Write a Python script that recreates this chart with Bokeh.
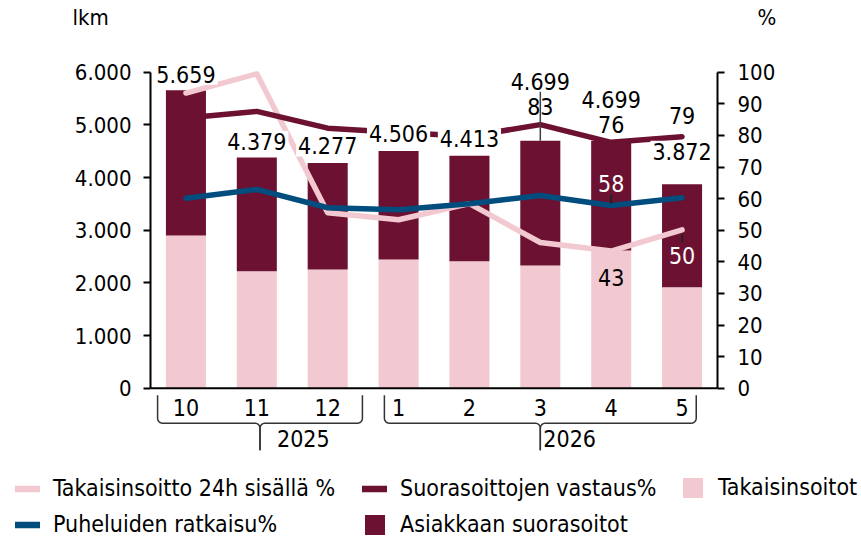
import numpy as np
from bokeh.plotting import figure
from bokeh.models import (ColumnDataSource, Range1d, LinearAxis, FixedTicker, Span,
                          Legend, LegendItem)
from bokeh.embed import file_html
from bokeh.resources import INLINE
from bokeh.core.properties import value

# ---------------- data ----------------
months = ["10", "11", "12", "1", "2", "3", "4", "5"]
years = ["2025", "2026"]
takaisinsoitot = [2900, 2222, 2254, 2444, 2412, 2330, 2615, 1915]
suorasoitot = [2759, 2157, 2023, 2062, 2001, 2369, 2084, 1957]
total_labels = [5659, 4379, 4277, 4506, 4413, 4699, 4699, 3872]
takaisin24_pct = [93.4, 99.5, 55.5, 53.3, 58.4, 46.1, 43.4, 50.1]
vastaus_pct = [85.5, 87.6, 82.3, 80.9, 79.7, 83.4, 77.8, 79.6]
ratkaisu_pct = [60.1, 62.9, 57.1, 56.5, 58.4, 61.0, 57.8, 60.3]
vastaus_labels = ["", "", "", "", "", "83", "76", "79"]
ratkaisu_labels = ["", "", "", "", "", "", "58", ""]
takaisin24_labels = ["", "", "", "", "", "", "43", "50"]
left_ticks = [0, 1000, 2000, 3000, 4000, 5000, 6000]
right_ticks = [0, 10, 20, 30, 40, 50, 60, 70, 80, 90, 100]
axis_units = ["lkm", "%"]
series_names = ["Takaisinsoitto 24h sisällä %", "Puheluiden ratkaisu%",
                "Suorasoittojen vastaus%", "Asiakkaan suorasoitot", "Takaisinsoitot"]

# ---------------- style / layout ----------------
FONT = "DejaVu Sans Condensed"
DARK = "#6c1131"
PINK = "#f3c9d1"
BLUE = "#004d7e"
INK = "#000000"
W = 861
HEAD_H, H, LEG_H = 40, 420, 77         # three stacked strips (total 537)
FL, FR, FT, FB = 150, 717, 0, 420      # frame of the chart strip
Y0, Y6 = 347.7, 31.7                   # baseline / top value px (chart strip)
K = 6000 / (Y0 - Y6)                   # left units per px
K2 = 100 / (Y0 - Y6)                   # right units per px
XU = 8 / (FR - FL)                     # x units per px


def bare(fig):
    fig.outline_line_color = None
    fig.background_fill_color = "white"
    fig.border_fill_color = "white"
    for g in fig.grid:
        g.visible = False
    return fig


# ---------------- header strip (unit titles) ----------------
h = bare(figure(width=W, height=HEAD_H, output_backend="svg", toolbar_location=None,
                title=None, x_range=Range1d(0, W), y_range=Range1d(0, HEAD_H),
                x_axis_location=None, y_axis_location=None,
                min_border_left=0, min_border_right=0, min_border_top=0, min_border_bottom=0))
h.text(x=[72, 757], y=[HEAD_H - 17] * 2, text=axis_units, text_font=value(FONT),
       text_font_size=value("22px"), text_color=INK, text_align="left",
       text_baseline="middle")

# ---------------- chart ----------------
p = bare(figure(width=W, height=H, output_backend="svg", toolbar_location=None, title=None,
                x_range=Range1d(0, 8), y_range=Range1d(-(FB - Y0) * K, 6000 + (Y6 - FT) * K),
                x_axis_location=None, y_axis_location=None,
                min_border_left=FL, min_border_right=W - FR,
                min_border_top=FT, min_border_bottom=H - FB))
p.extra_y_ranges = {"pct": Range1d(-(FB - Y0) * K2, 100 + (Y6 - FT) * K2)}


def style_axis(ax, standoff):
    ax.axis_line_width = 2
    ax.axis_line_color = INK
    ax.major_tick_line_width = 2
    ax.major_tick_line_color = INK
    ax.major_tick_out = 7
    ax.major_tick_in = 0
    ax.minor_tick_out = 0
    ax.minor_tick_in = 0
    ax.major_label_text_font = FONT
    ax.major_label_text_font_size = "22px"
    ax.major_label_text_color = INK
    ax.major_label_standoff = standoff


yl = LinearAxis(ticker=FixedTicker(ticks=left_ticks), bounds=(0, 6000),
                major_label_overrides={t: f"{t:,}".replace(",", ".") for t in left_ticks})
style_axis(yl, 12)
p.add_layout(yl, "left")
yr = LinearAxis(y_range_name="pct", ticker=FixedTicker(ticks=right_ticks), bounds=(0, 100))
style_axis(yr, 13)
p.add_layout(yr, "right")

xs = [i + 0.5 for i in range(len(months))]
tops = [a + b for a, b in zip(takaisinsoitot, suorasoitot)]

src = ColumnDataSource(dict(x=xs, takaisin=takaisinsoitot, suora=suorasoitot))
p.vbar_stack(["takaisin", "suora"], x="x", width=0.565, source=src,
             fill_color=[PINK, DARK], line_color=None)

LINE_KW = dict(line_width=5.5, line_cap="round", line_join="round")
p.line(xs, takaisin24_pct, y_range_name="pct", line_color=PINK, **LINE_KW)
p.line(xs, vastaus_pct, y_range_name="pct", line_color=DARK, **LINE_KW)
p.line(xs, ratkaisu_pct, y_range_name="pct", line_color=BLUE, **LINE_KW)

p.add_layout(Span(location=0, dimension="width", line_color=INK, line_width=2))

# total labels above bars (px above bar top)
tot_off = [16, 16, 17, 17.5, 17, 59, 41, 33]
p.text(x=xs, y=[t + o * K for t, o in zip(tops, tot_off)],
       text=[f"{v:,}".replace(",", ".") for v in total_labels],
       text_font=value(FONT), text_font_size=value("23px"), text_color=INK,
       text_align="center", text_baseline="middle",
       background_fill_color="white", padding=2)


def pct_labels(vals, labels, offs, colors):
    idx = [i for i, s in enumerate(labels) if s]
    p.text(x=[xs[i] for i in idx], y=[vals[i] + offs[i] * K2 for i in idx],
           text=[labels[i] for i in idx], text_color=[colors[i] for i in idx],
           y_range_name="pct", text_font=value(FONT), text_font_size=value("23px"),
           text_align="center", text_baseline="middle")


pct_labels(vastaus_pct, vastaus_labels, [0, 0, 0, 0, 0, 18, 18, 21], [INK] * 8)
pct_labels(ratkaisu_pct, ratkaisu_labels, [0, 0, 0, 0, 0, 0, 22, 0], ["white"] * 8)
pct_labels(takaisin24_pct, takaisin24_labels, [0, 0, 0, 0, 0, 0, -26.5, -25.5],
           [INK] * 7 + ["white"])

# leader lines
p.segment(x0=[xs[5]], y0=[tops[5]], x1=[xs[5]], y1=[tops[5] + 49 * K],
          line_color="#404040", line_width=1.5)
p.segment(x0=[xs[6]], y0=[ratkaisu_pct[6] + 2 * K2], x1=[xs[6]], y1=[ratkaisu_pct[6] + 11 * K2],
          y_range_name="pct", line_color="#222222", line_width=2)
p.segment(x0=[xs[7]], y0=[takaisin24_pct[7] - 4 * K2], x1=[xs[7]], y1=[takaisin24_pct[7] - 12 * K2],
          y_range_name="pct", line_color="#222222", line_width=2)

# category axis: months, brackets, years
p.text(x=xs, y=[-19 * K] * len(xs), text=months, text_font=value(FONT),
       text_font_size=value("23px"), text_color=INK, text_align="center",
       text_baseline="middle")

BRACKETS = [(0.10, 2.99), (3.30, 7.70)]
TOP_PX, BAR_PX, STEM_PX, R = 7, 35, 62, 5
bx, by = [], []
t = np.linspace(0, np.pi / 2, 7)
for (a, b) in BRACKETS:
    m = (a + b) / 2
    ly = ([-TOP_PX * K] + list(-(BAR_PX - R + R * np.sin(t)) * K)
          + list(-(BAR_PX + R - R * np.cos(t)) * K) + [-STEM_PX * K])
    lx = [a] + list(a + R * XU * (1 - np.cos(t))) + list(m - R * XU + R * XU * np.sin(t)) + [m]
    rx = [b] + list(b - R * XU * (1 - np.cos(t))) + list(m + R * XU - R * XU * np.sin(t)) + [m]
    bx += [lx, rx]
    by += [ly, ly]
p.multi_line(xs=bx, ys=by, line_color="#333333", line_width=1.5)

year_x = [(a + b) / 2 + o * XU for (a, b), o in zip(BRACKETS, [17, 3])]
p.text(x=year_x, y=[-50.5 * K] * 2, text=years, text_font=value(FONT),
       text_font_size=value("23px"), text_color=INK, text_align="left",
       text_baseline="middle")

# ---------------- legend strip ----------------
q = bare(figure(width=W, height=LEG_H, output_backend="svg", toolbar_location=None,
                title=None, x_range=Range1d(0, 1), y_range=Range1d(0, 1),
                x_axis_location=None, y_axis_location=None,
                min_border_left=0, min_border_right=0, min_border_top=0, min_border_bottom=0))
off = dict(x=[-2, -1], y=[-2, -2])
LEG_LINE = dict(line_width=6.5, line_cap="round", line_join="round")
lr_t24 = q.line(line_color=PINK, **off, **LEG_LINE)
lr_rat = q.line(line_color=BLUE, **off, **LEG_LINE)
lr_vas = q.line(line_color=DARK, **off, **LEG_LINE)
lr_suo = q.vbar(x=[-2], top=[-1], bottom=[-2], width=0.5, fill_color=DARK, line_color=None)
lr_tak = q.vbar(x=[-2], top=[-1], bottom=[-2], width=0.5, fill_color=PINK, line_color=None)
leg_r = [lr_t24, lr_rat, lr_vas, lr_suo, lr_tak]

common = dict(label_text_font=FONT, label_text_font_size="23px", label_text_color=INK,
              glyph_width=25, glyph_height=25, label_height=25, spacing=10,
              padding=0, margin=0, border_line_color=None, background_fill_alpha=0)
for idx, x0, vy, standoff in [([0, 1], 15, 0, 13), ([2, 3], 362, 0, 13), ([4], 680, 37, 13)]:
    q.add_layout(Legend(items=[LegendItem(label=series_names[i], renderers=[leg_r[i]]) for i in idx],
                        location=(x0, vy), label_standoff=standoff, **common))

open("out.html", "w").write(file_html([h, p, q], INLINE))
